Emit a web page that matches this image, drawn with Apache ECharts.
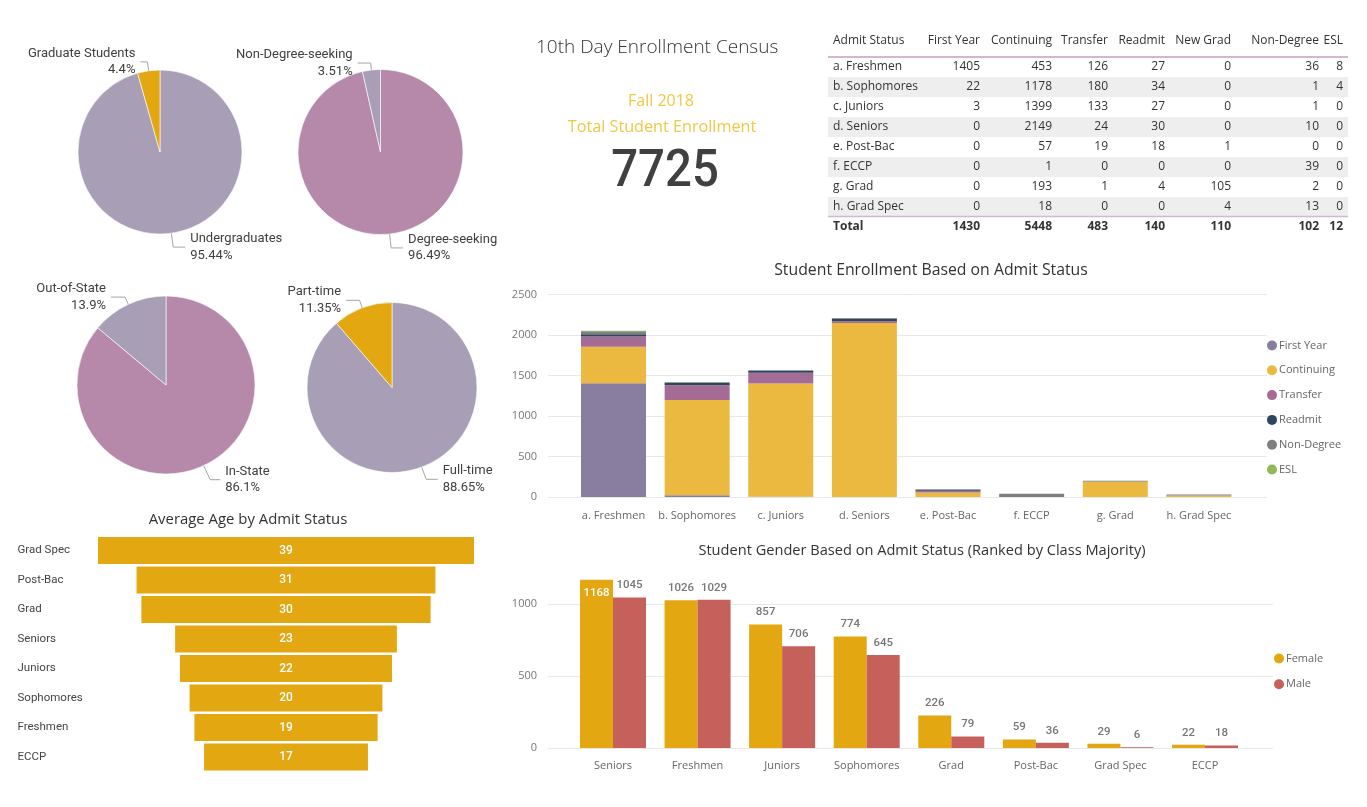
<!DOCTYPE html>
<html><head><meta charset="utf-8">
<script src="https://cdn.jsdelivr.net/npm/echarts@6/dist/echarts.min.js"></script>
<style>html,body{margin:0;padding:0;background:#fff}#c{width:1367px;height:807px}</style>
</head><body><div id="c"></div>
<script>
// ---------- DATA ----------
const levelNames = ['Undergraduates', 'Graduate Students'];
const levelPct = [95.44, 4.4];
const degreeNames = ['Degree-seeking', 'Non-Degree-seeking'];
const degreePct = [96.49, 3.51];
const residencyNames = ['In-State', 'Out-of-State'];
const residencyPct = [86.1, 13.9];
const loadNames = ['Full-time', 'Part-time'];
const loadPct = [88.65, 11.35];

const admitStatus = ['a. Freshmen','b. Sophomores','c. Juniors','d. Seniors','e. Post-Bac','f. ECCP','g. Grad','h. Grad Spec'];
const tableCols = ['First Year','Continuing','Transfer','Readmit','New Grad','Non-Degree','ESL'];
const firstYear = [1405, 22, 3, 0, 0, 0, 0, 0];
const continuing = [453, 1178, 1399, 2149, 57, 1, 193, 18];
const transfer = [126, 180, 133, 24, 19, 0, 1, 0];
const readmit = [27, 34, 27, 30, 18, 0, 4, 0];
const newGrad = [0, 0, 0, 0, 1, 0, 105, 4];
const nonDegree = [36, 1, 1, 10, 0, 39, 2, 13];
const esl = [8, 4, 0, 0, 0, 0, 0, 0];
const totals = [1430, 5448, 483, 140, 110, 102, 12];

const totalEnrollment = 7725;

const genderCats = ['Seniors','Freshmen','Juniors','Sophomores','Grad','Post-Bac','Grad Spec','ECCP'];
const female = [1168, 1026, 857, 774, 226, 59, 29, 22];
const male = [1045, 1029, 706, 645, 79, 36, 6, 18];

const ageCats = ['Grad Spec','Post-Bac','Grad','Seniors','Juniors','Sophomores','Freshmen','ECCP'];
const avgAge = [39, 31, 30, 23, 22, 20, 19, 17];

const stackNames = ['First Year','Continuing','Transfer','Readmit','Non-Degree','ESL'];
const stackData = [firstYear, continuing, transfer, readmit, nonDegree, esl];

// ---------- STYLE ----------
const LAV = '#A89EB6', MAUVE = '#B689AB', GOLD = '#E3A711';
const stackColors = ['#8A7EA0', '#EBB840', '#A46C94', '#2D465F', '#7F7F7F', '#92B957'];
const UI = '"Open Sans", "Noto Sans", sans-serif';
const DIN = 'Roboto, "Noto Sans", sans-serif';

function pieSeries(names, values, colors, center, radius, lines) {
  return {
    type: 'pie', center: center, radius: radius, startAngle: 90, clockwise: true,
    avoidLabelOverlap: false, animation: false, emphasis: { disabled: true },
    label: { formatter: p => p.name + '\n' + p.value + '%', fontFamily: DIN, fontSize: 13, color: '#404040', lineHeight: 16.5 },
    labelLine: { show: true, lineStyle: { color: '#A6A6A6', width: 1 } },
    itemStyle: { borderColor: '#ffffff', borderWidth: 0.6 },
    data: names.map((n, i) => ({ name: n, value: values[i], itemStyle: { color: colors[i] },
      labelLine: { length: lines[i][0], length2: lines[i][1] } }))
  };
}

// ---------- GRAPHIC (titles, KPI, table) ----------
const g = [];
function txt(x, y, text, font, fill, align, extra) {
  g.push(Object.assign({ type: 'text', x: x, y: y, silent: true,
    style: { text: text, font: font, fill: fill, align: align || 'left', verticalAlign: 'middle' } }, extra || {}));
}
txt(536, 48, '10th Day Enrollment Census', '300 19px ' + UI, '#333333', 'left');
txt(661, 101, 'Fall 2018', '16px ' + UI, '#F2C744', 'center');
txt(662, 127, 'Total Student Enrollment', '16.2px ' + UI, '#F2C744', 'center');
txt(665, 173, String(totalEnrollment), '500 52px ' + DIN, '#404040', 'center', { scaleX: 0.91 });
txt(931, 270, 'Student Enrollment Based on Admit Status', '15.8px ' + UI, '#333333', 'center');
txt(922, 551, 'Student Gender Based on Admit Status (Ranked by Class Majority)', '14.6px ' + UI, '#333333', 'center');
txt(248, 520, 'Average Age by Admit Status', '14.9px ' + UI, '#333333', 'center');

// table
const tblL = 828, tblR = 1348;
const colRight = [980, 1052, 1108, 1165, 1231, 1319, 1343];
const rowY0 = 67, rowH = 20, headY = 41, totY = 227;
const tableData = [firstYear, continuing, transfer, readmit, newGrad, nonDegree, esl];
admitStatus.forEach((s, i) => {
  if (i % 2 === 1) g.push({ type: 'rect', silent: true, shape: { x: tblL, y: rowY0 + i * rowH - 10, width: tblR - tblL, height: rowH }, style: { fill: '#EEEEEE' } });
});
g.push({ type: 'line', silent: true, shape: { x1: tblL, y1: 57, x2: tblR, y2: 57 }, style: { stroke: '#D6B6CD', lineWidth: 2 } });
g.push({ type: 'line', silent: true, shape: { x1: tblL, y1: 216.5, x2: tblR, y2: 216.5 }, style: { stroke: '#D6B6CD', lineWidth: 1.5 } });
const TF = '12px ' + UI, TFB = 'bold 12px ' + UI;
txt(833, headY, 'Admit Status', TF, '#333333');
tableCols.forEach((c, j) => txt(colRight[j], headY, c, TF, '#333333', 'right'));
admitStatus.forEach((s, i) => {
  const y = rowY0 + i * rowH;
  txt(833, y, s, TF, '#333333');
  tableData.forEach((col, j) => txt(colRight[j], y, String(col[i]), TF, '#333333', 'right'));
});
txt(833, totY, 'Total', TFB, '#333333');
totals.forEach((v, j) => txt(colRight[j], totY, String(v), TFB, '#333333', 'right'));

// ---------- AXES ----------
const axLbl = { fontFamily: UI, fontSize: 11, color: '#777777', formatter: v => String(v) };
const split = { show: true, lineStyle: { color: '#E8E8E8', width: 1 } };
const none = { show: false };

const option = {
  animation: false,
  backgroundColor: '#ffffff',
  graphic: g,
  grid: [
    { left: 548, top: 294.7, width: 719, height: 202.3 },
    { left: 571.7, top: 294.7, width: 669, height: 202.3 },
    { left: 548, top: 604, width: 725, height: 144 },
    { left: 570.7, top: 575.2, width: 676.6, height: 172.8 },
    { left: 98, top: 535.75, width: 376, height: 236 }
  ],
  xAxis: [
    { gridIndex: 0, type: 'category', data: [''], show: false },
    { gridIndex: 1, type: 'category', data: admitStatus, axisLine: none, axisTick: none,
      axisLabel: { margin: 13, interval: 0, fontFamily: UI, fontSize: 11, color: '#666666' } },
    { gridIndex: 2, type: 'category', data: [''], show: false },
    { gridIndex: 3, type: 'category', data: genderCats, axisLine: none, axisTick: none,
      axisLabel: { margin: 12, interval: 0, fontFamily: UI, fontSize: 11, color: '#666666' } },
    { gridIndex: 4, type: 'value', min: -19.5, max: 19.5, show: false }
  ],
  yAxis: [
    { gridIndex: 0, type: 'value', min: 0, max: 2500, interval: 500, axisLine: none, axisTick: none,
      axisLabel: Object.assign({ margin: 11 }, axLbl), splitLine: split },
    { gridIndex: 1, type: 'value', min: 0, max: 2500, show: false, splitLine: none },
    { gridIndex: 2, type: 'value', min: 0, max: 1000, interval: 500, axisLine: none, axisTick: none,
      axisLabel: Object.assign({ margin: 11 }, axLbl), splitLine: split },
    { gridIndex: 3, type: 'value', min: 0, max: 1200, show: false, splitLine: none },
    { gridIndex: 4, type: 'category', data: ageCats, inverse: true, axisLine: none, axisTick: none,
      axisLabel: { align: 'left', margin: 80.5, fontFamily: DIN, fontSize: 11.5, color: '#444444' } }
  ],
  legend: [
    { data: stackNames, orient: 'vertical', left: 1267, top: 340, itemWidth: 10, itemHeight: 10, itemGap: 13.8,
      icon: 'circle', padding: 0, selectedMode: false, textStyle: { fontFamily: UI, fontSize: 11, color: '#666666', padding: [0, 0, 0, -3] } },
    { data: ['Female', 'Male'], orient: 'vertical', left: 1274, top: 653, itemWidth: 10, itemHeight: 10, itemGap: 14.7,
      icon: 'circle', padding: 0, selectedMode: false, textStyle: { fontFamily: UI, fontSize: 11, color: '#666666', padding: [0, 0, 0, -3] } }
  ],
  series: [
    pieSeries(levelNames, levelPct, [LAV, GOLD], [160, 152], 82, [[14, 12], [9, 7]]),
    pieSeries(degreeNames, degreePct, [MAUVE, LAV], [380.5, 152], 82.5, [[14, 12], [7, 13]]),
    pieSeries(residencyNames, residencyPct, [MAUVE, LAV], [166, 385], 89, [[15.5, 10], [8, 14]]),
    pieSeries(loadNames, loadPct, [LAV, GOLD], [392, 387.5], 85, [[13, 11.5], [8, 13.5]])
  ].concat(stackNames.map((n, i) => ({
    type: 'bar', name: n, stack: 'adm', xAxisIndex: 1, yAxisIndex: 1, barWidth: 65,
    data: stackData[i], itemStyle: { color: stackColors[i] }, emphasis: { disabled: true }
  }))).concat([
    { type: 'bar', name: 'Female', xAxisIndex: 3, yAxisIndex: 3, barWidth: 33, barGap: '0%',
      itemStyle: { color: GOLD }, emphasis: { disabled: true },
      label: { show: true, position: 'top', distance: 6, fontFamily: DIN, fontSize: 11.5, fontWeight: 500, color: '#777777' },
      data: female.map((v, i) => i === 0 ? { value: v, label: { position: 'insideTop', color: '#ffffff', distance: 7 } } : v) },
    { type: 'bar', name: 'Male', xAxisIndex: 3, yAxisIndex: 3, barWidth: 33, barGap: '0%',
      itemStyle: { color: '#C5605A' }, emphasis: { disabled: true },
      label: { show: true, position: 'top', distance: 6, fontFamily: DIN, fontSize: 11.5, fontWeight: 500, color: '#777777' },
      data: male },
    { type: 'custom', xAxisIndex: 4, yAxisIndex: 4,
      data: avgAge.map((v, i) => [v, i]),
      renderItem: function (params, api) {
        const v = api.value(0), c = api.value(1);
        const a = api.coord([-v / 2, c]), b = api.coord([v / 2, c]);
        const h = api.size([0, 1])[1] * 0.915;
        return { type: 'group', children: [
          { type: 'rect', shape: { x: a[0], y: a[1] - h / 2, width: b[0] - a[0], height: h }, style: { fill: GOLD } },
          { type: 'text', x: (a[0] + b[0]) / 2, y: a[1], style: { text: String(v), fill: '#ffffff', font: '500 12px ' + DIN, align: 'center', verticalAlign: 'middle' } }
        ] };
      }
    }
  ])
};

const chart = echarts.init(document.getElementById('c'), null, { renderer: 'canvas' });
chart.setOption(option);
</script></body></html>
